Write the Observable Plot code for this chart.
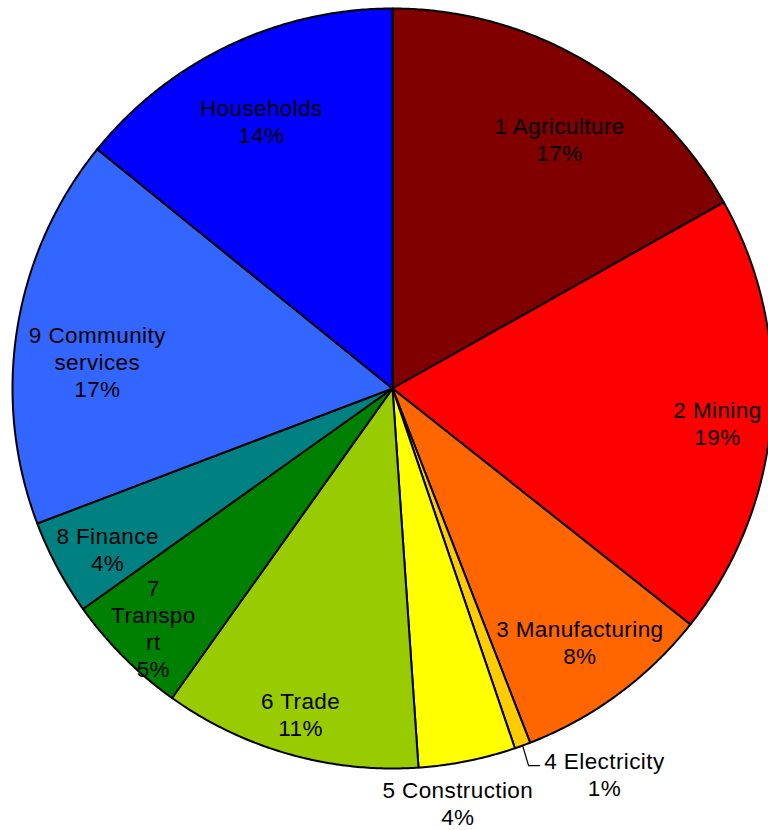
<!DOCTYPE html>
<html>
<head>
<meta charset="utf-8">
<script src="https://cdn.jsdelivr.net/npm/d3@7"></script>
<script src="https://cdn.jsdelivr.net/npm/@observablehq/plot@0.6"></script>
<style>
  html, body { margin: 0; padding: 0; overflow: hidden; background: #fff; }
  #chart svg text { letter-spacing: 0.4px; }
</style>
</head>
<body>
<div id="chart"></div>
<script>
// ---- data ----
const sectors = ["1 Agriculture", "2 Mining", "3 Manufacturing", "4 Electricity", "5 Construction",
                 "6 Trade", "7 Transport", "8 Finance", "9 Community services", "Households"];
// shares (%) measured from the slice angles
const shares = [16.85, 18.81, 8.44, 0.68, 4.13, 10.94, 5.30, 4.07, 16.62, 14.16];
const pctLabels = ["17%", "19%", "8%", "1%", "4%", "11%", "5%", "4%", "17%", "14%"];
// label text as wrapped in the original
const labelLines = ["1 Agriculture", "2 Mining", "3 Manufacturing", "4 Electricity", "5 Construction",
                    "6 Trade", "7\nTranspo\nrt", "8 Finance", "9 Community\nservices", "Households"];
const colors = ["#800000", "#FF0000", "#FF6600", "#FFCC00", "#FFFF00",
                "#99CC00", "#008000", "#008080", "#3366FF", "#0000FF"];

// ---- layout (style) ----
const W = 768, H = 830, R = 380, CX = 392, CY = 388;
// label placement: radius fraction and angular tweak (degrees) from slice mid-angle
const labelRadius = [0.79, 0.86, 0.83, 1.157, 1.104, 0.89, 0.89, 0.86, 0.78, 0.785];
const labelTweak  = [3.5, 1.6, 0, -8.8, 2.4, 0, 0, -1.2, -3.9, -0.6];

const polar = (deg, r) => {
  const a = deg * Math.PI / 180;
  return {x: r * Math.sin(a), y: r * Math.cos(a)};
};

const total = d3.sum(shares);
const cum = [0];
shares.forEach(v => cum.push(cum[cum.length - 1] + v));

const slices = shares.map((v, i) => {
  const a0 = cum[i] / total * 360, a1 = cum[i + 1] / total * 360;
  const n = Math.max(2, Math.ceil((a1 - a0) / 0.4));
  const pts = [{x: 0, y: 0}];
  for (let k = 0; k <= n; k++) pts.push(polar(a0 + (a1 - a0) * k / n, 1));
  pts.push({x: 0, y: 0});
  return {name: sectors[i], color: colors[i], pts, mid: (a0 + a1) / 2};
});

const labels = slices.map((s, i) => {
  const p = polar(s.mid + labelTweak[i], labelRadius[i]);
  return {x: p.x, y: p.y, text: labelLines[i] + "\n" + pctLabels[i]};
});

// leader line for the small Electricity slice
const elec = slices[3];
const e0 = polar(elec.mid, 1.0);
const leader = [
  e0,
  {x: e0.x + 6 / R, y: e0.y - 20 / R},
  {x: e0.x + 17 / R, y: e0.y - 20 / R}
];

const marks = [
  ...slices.map(s => Plot.line(s.pts, {
    x: "x", y: "y", fill: s.color, stroke: "black",
    strokeWidth: 2, strokeLinejoin: "round", curve: "linear", clip: true
  })),
  Plot.line(leader, {x: "x", y: "y", stroke: "black", strokeWidth: 1.2}),
  Plot.text(labels, {
    x: "x", y: "y", text: "text", fill: "black",
    fontSize: 22.5, lineHeight: 1.2,
    fontFamily: "Liberation Sans, Arial, sans-serif"
  })
];

const chart = Plot.plot({
  width: W, height: H,
  marginTop: 0, marginRight: 0, marginBottom: 0, marginLeft: 0,
  x: {domain: [-CX / R, (W - CX) / R], range: [0, W], axis: null},
  y: {domain: [-(H - CY) / R, CY / R], range: [H, 0], axis: null},
  style: {background: "white", overflow: "hidden"},
  marks
});
document.getElementById("chart").appendChild(chart);
</script>
</body>
</html>
